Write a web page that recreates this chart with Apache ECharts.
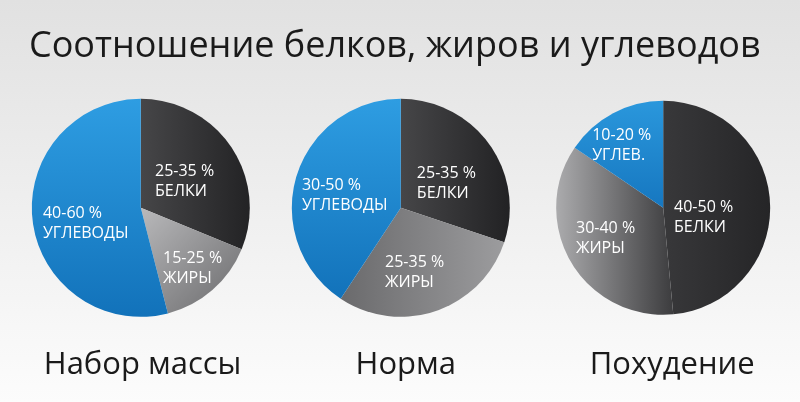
<!DOCTYPE html>
<html>
<head>
<meta charset="utf-8">
<script src="https://cdn.jsdelivr.net/npm/echarts@6/dist/echarts.min.js"></script>
<style>
html,body{margin:0;padding:0;width:800px;height:402px;overflow:hidden;}
#chart{width:800px;height:402px;}
</style>
</head>
<body>
<div id="chart"></div>
<script>
// ---- data ----
const chartTitle = 'Соотношение белков, жиров и углеводов';
const plans = ['Набор массы', 'Норма', 'Похудение'];
const nutrientKeys = ['protein', 'fat', 'carbs'];
const gainNames = ['БЕЛКИ', 'ЖИРЫ', 'УГЛЕВОДЫ'];
const normNames = ['БЕЛКИ', 'ЖИРЫ', 'УГЛЕВОДЫ'];
const lossNames = ['БЕЛКИ', 'ЖИРЫ', 'УГЛЕВ.'];
const gainRanges = ['25-35 %', '15-25 %', '40-60 %'];
const normRanges = ['25-35 %', '25-35 %', '30-50 %'];
const lossRanges = ['40-50 %', '30-40 %', '10-20 %'];
const gainShares = [31.2, 14.8, 54.0];
const normShares = [30.1, 29.2, 40.7];
const lossShares = [48.5, 36.0, 15.5];

// ---- styling ----
const FONT = '"Open Sans", "DejaVu Sans", sans-serif';
function lin(x, y, x2, y2, c1, c2) {
  return { type: 'linear', x: x, y: y, x2: x2, y2: y2,
    colorStops: [{ offset: 0, color: c1 }, { offset: 1, color: c2 }] };
}
const styles = [
  { // gain
    colors: [lin(0, 0, 1, 0, '#464648', '#232325'), lin(0, 0, 1, 1, '#b9b9bb', '#6a6a6c'), lin(0, 0, 0, 1, '#2e9de2', '#1272ba')],
    center: ['17.6%', '51.7%'], radius: 109,
    offsets: [[-4, 6], [14, 17], [2, 8]]
  },
  { // norm
    colors: [lin(0, 0, 1, 0, '#464648', '#222224'), lin(0, 0, 1, 0, '#6a6a6c', '#9c9c9e'), lin(0, 0, 0, 1, '#2e9de2', '#1272ba')],
    center: ['50.1%', '51.7%'], radius: 109,
    offsets: [[-1, 9], [-5, 10], [-1, 4]]
  },
  { // loss
    colors: [lin(0, 0, 1, 0, '#38383a', '#252527'), lin(0, 0, 1, 0, '#ababad', '#3c3c3e'), lin(0, 0, 0, 1, '#2a97dc', '#1677c0')],
    center: ['82.9%', '51.7%'], radius: 107,
    offsets: [[-16, 12], [-9, 2], [-15, -12]]
  }
];

const namesList = [gainNames, normNames, lossNames];
const rangesList = [gainRanges, normRanges, lossRanges];
const sharesList = [gainShares, normShares, lossShares];

const series = plans.map(function (plan, si) {
  const st = styles[si];
  return {
    type: 'pie',
    name: plan,
    center: st.center,
    radius: [0, st.radius],
    startAngle: 90,
    clockwise: true,
    silent: true,
    animation: false,
    label: {
      show: true,
      position: 'inside',
      color: '#ffffff',
      fontFamily: FONT,
      fontSize: 16,
      lineHeight: 20,
      formatter: function (p) { return rangesList[si][p.dataIndex] + '\n' + namesList[si][p.dataIndex]; }
    },
    labelLine: { show: false },
    labelLayout: function (p) {
      const o = st.offsets[p.dataIndex];
      return { x: p.labelRect.x + o[0], y: p.labelRect.y + o[1], align: 'left', verticalAlign: 'top' };
    },
    itemStyle: { borderWidth: 0 },
    data: sharesList[si].map(function (v, i) {
      return { name: nutrientKeys[i], value: v, itemStyle: { color: st.colors[i] } };
    })
  };
});

const captionCenters = ['17.2%', '50.1%', '83.4%'];
const titles = [{
  text: chartTitle, left: 24, top: 24,
  textStyle: { fontFamily: FONT, fontSize: 36, fontWeight: 'normal', color: '#1a1a1a' }
}].concat(plans.map(function (p, i) {
  return {
    text: p, left: captionCenters[i], top: 345, textAlign: 'center',
    textStyle: { fontFamily: FONT, fontSize: 31, fontWeight: 'normal', color: '#1a1a1a' }
  };
}));

const chart = echarts.init(document.getElementById('chart'), null, { renderer: 'canvas' });
chart.setOption({
  backgroundColor: lin(0, 0, 0, 1, '#e1e1e1', '#fcfcfc'),
  title: titles,
  series: series
});
</script>
</body>
</html>
